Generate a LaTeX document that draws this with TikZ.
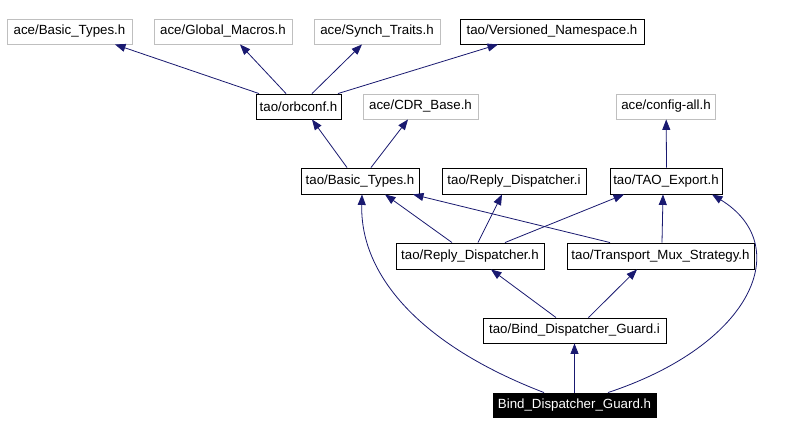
\documentclass[tikz,border=0pt]{standalone}
\usepackage{fontspec}
\setmainfont{Liberation Sans}
\usetikzlibrary{arrows.meta}
\definecolor{edgeblue}{RGB}{25,25,112}
\definecolor{lightframe}{RGB}{191,191,191}
\begin{document}
\begin{tikzpicture}[x=1pt,y=-1pt,
  box/.style={draw=black,line width=0.9pt,fill=white,inner sep=0pt,minimum height=25pt,
    font=\fontsize{13.3}{16}\selectfont,text=black},
  graybox/.style={box,draw=lightframe},
  mainbox/.style={box,fill=black,text=white},
  edge/.style={draw=edgeblue,line width=0.8pt,
    -{Triangle[length=10.5pt,width=8pt,fill=edgeblue]}},
]
\useasboundingbox[fill=white] (0,0) rectangle (811,435);

\node[graybox,minimum width=125pt] (aBT) at (69.5,31.5) {ace/Basic\_Types.h};
\node[graybox,minimum width=138pt] (aGM) at (223,31.5) {ace/Global\_Macros.h};
\node[graybox,minimum width=126pt] (aST) at (377,31.5) {ace/Synch\_Traits.h};
\node[box,minimum width=184pt] (tVN) at (552,31.5) {tao/Versioned\_Namespace.h};
\node[box,minimum width=85pt] (orb) at (298.5,106.5) {tao/orbconf.h};
\node[graybox,minimum width=115pt] (aCDR) at (420.5,106.5) {ace/CDR\_Base.h};
\node[graybox,minimum width=99pt] (acfg) at (666,106.5) {ace/config-all.h};
\node[box,minimum width=118pt,minimum height=26pt] (tBT) at (360,181) {tao/Basic\_Types.h};
\node[box,minimum width=144pt,minimum height=26pt] (tRDi) at (514,181) {tao/Reply\_Dispatcher.i};
\node[box,minimum width=112pt,minimum height=26pt] (tTE) at (666,181) {tao/TAO\_Export.h};
\node[box,minimum width=148pt,minimum height=26pt] (tRDh) at (470,256) {tao/Reply\_Dispatcher.h};
\node[box,minimum width=187pt,minimum height=26pt] (tTMS) at (660.5,256) {tao/Transport\_Mux\_Strategy.h};
\node[box,minimum width=183pt] (tBDGi) at (574.5,330.5) {tao/Bind\_Dispatcher\_Guard.i};
\node[mainbox,minimum width=163pt,minimum height=24pt] (BDGh) at (574.5,405) {Bind\_Dispatcher\_Guard.h};

\draw[edge] ([xshift=-39.5pt]orb.north) -- ([xshift=45.5pt]aBT.south);
\draw[edge] ([xshift=-12.5pt]orb.north) -- ([xshift=17pt]aGM.south);
\draw[edge] ([xshift=13.5pt]orb.north) -- ([xshift=-15pt]aST.south);
\draw[edge] ([xshift=39.5pt]orb.north) -- ([xshift=-54pt]tVN.south);
\draw[edge] ([xshift=-13pt]tBT.north) -- ([xshift=13.5pt]orb.south);
\draw[edge] ([xshift=11pt]tBT.north) -- ([xshift=-12.5pt]aCDR.south);
\draw[edge] ([xshift=0.5pt]tTE.north) -- ([xshift=0.2pt]acfg.south);
\draw[edge] ([xshift=-18pt]tRDh.north) -- ([xshift=25pt]tBT.south);
\draw[edge] ([xshift=8pt]tRDh.north) -- ([xshift=-12pt]tRDi.south);
\draw[edge] ([xshift=35pt]tRDh.north) -- ([xshift=-42pt]tTE.south);
\draw[edge] ([xshift=-50.5pt]tTMS.north) -- ([xshift=53pt]tBT.south);
\draw[edge] ([xshift=1.5pt]tTMS.north) -- ([xshift=-3pt]tTE.south);
\draw[edge] ([xshift=-18.5pt]tBDGi.north) -- ([xshift=21pt]tRDh.south);
\draw[edge] ([xshift=14pt]tBDGi.north) -- ([xshift=-23.5pt]tTMS.south);
\draw[edge] (BDGh.north) -- (tBDGi.south);
\draw[edge] ([xshift=-30.5pt]BDGh.north) .. controls +(-125,-48) and +(-2,80) .. ([xshift=2pt]tBT.south);
\draw[edge] ([xshift=33.5pt]BDGh.north) .. controls +(145,-48) and +(83,51) .. ([xshift=46pt]tTE.south);
\end{tikzpicture}
\end{document}
